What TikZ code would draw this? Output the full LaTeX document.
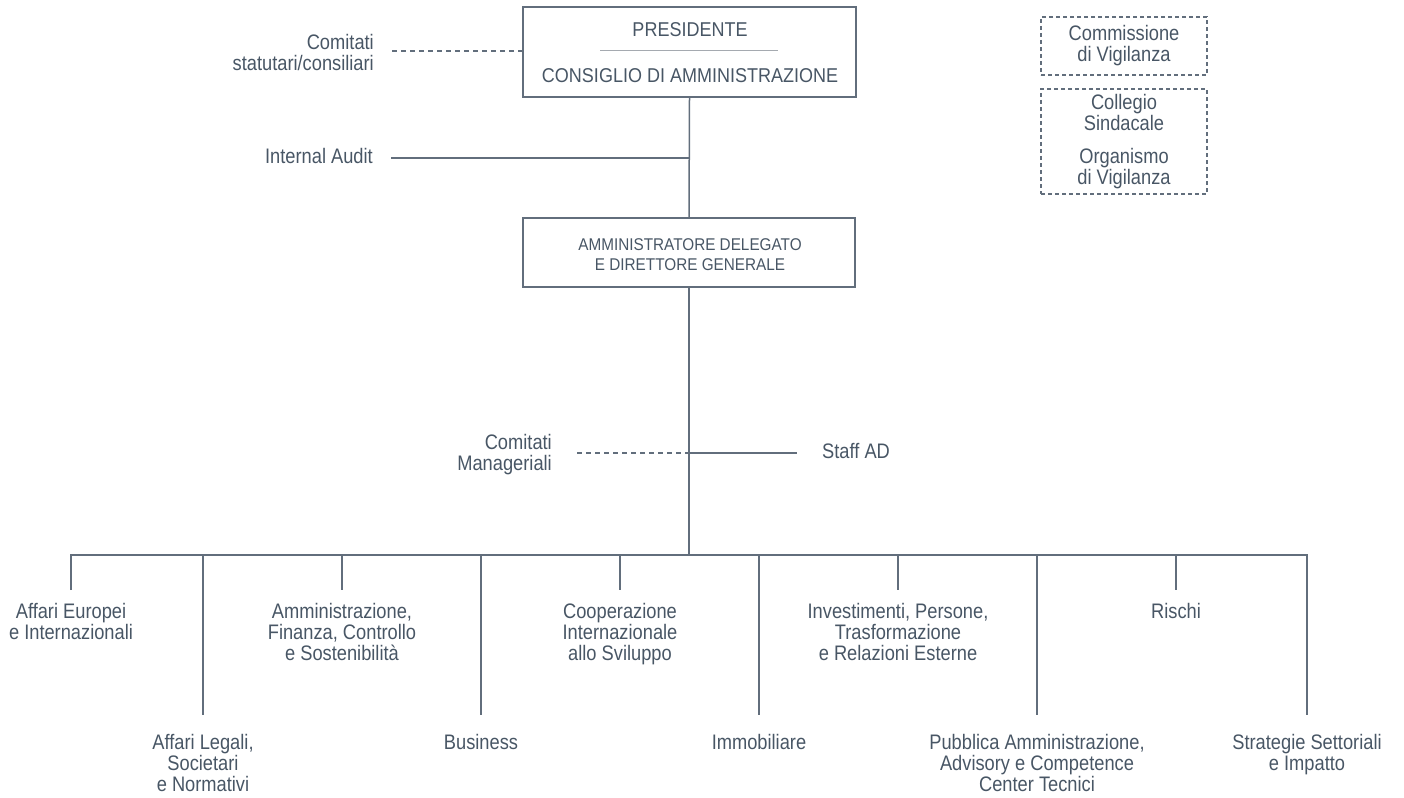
\documentclass[tikz,border=0pt]{standalone}
\usepackage{fontspec}
\setmainfont{Liberation Sans}[FakeStretch=0.9]
\newfontfamily\labfont{Liberation Sans}[FakeStretch=0.87]
\definecolor{txt}{RGB}{72,86,101}
\definecolor{ln}{RGB}{98,110,124}
\definecolor{sepc}{RGB}{165,170,176}
\begin{document}
\begin{tikzpicture}[x=1pt,y=-1pt,
  every node/.style={text=txt,inner sep=0pt},
  captext/.style={font=\fontsize{20}{21}\selectfont,align=center},
  lab/.style={font=\labfont\fontsize{21}{21}\selectfont,align=center},
  labr/.style={font=\labfont\fontsize{21}{21}\selectfont,align=right},
  conn/.style={draw=ln,line width=1.5pt},
  dconn/.style={draw=ln,line width=1.3pt,dash pattern=on 5pt off 4pt},
  mainbox/.style={draw=ln,line width=1.5pt,rectangle},
  dbox/.style={draw=ln,line width=1.3pt,dash pattern=on 4pt off 3pt,rectangle,align=center,font=\labfont\fontsize{21}{21}\selectfont,minimum width=166pt}]
\useasboundingbox (0,0) rectangle (1404,797);
% top box
\node[mainbox,minimum width=333pt,minimum height=90pt] (pres) at (689.5,52) {};
\node[captext] (presT) at (690,30) {PRESIDENTE};
\node[captext] (cdaT) at (690,76) {CONSIGLIO DI AMMINISTRAZIONE};
\coordinate (sepL) at (600,51);
\coordinate (sepR) at (778,51);
\draw[draw=sepc,line width=1pt] (sepL) -- (sepR);
% AD box
\node[mainbox,minimum width=332pt,minimum height=69pt] (ad) at (689,252.5) {};
\node[font=\fontsize{17}{20}\selectfont,align=center] (adT) at (690,255) {AMMINISTRATORE DELEGATO\\E DIRETTORE GENERALE};
% right dashed boxes
\node[dbox,minimum height=58pt] (cv) at (1124,46) {Commissione\\di Vigilanza};
\node[dbox,minimum height=105pt] (cs) at (1124,141.5) {Collegio\\Sindacale\\[12pt]Organismo\\di Vigilanza};
% side labels
\node[labr,anchor=north east] (cst) at (374,34) {Comitati\\statutari/consiliari};
\node[labr,anchor=east] (ia) at (373,156) {Internal Audit};
\node[labr,anchor=north east] (cm) at (552,434) {Comitati\\Manageriali};
\node[lab,anchor=west] (staff) at (822,451) {Staff AD};
% side connectors
\coordinate (cstE) at (392,51);
\draw[dconn] (cstE) -- (cstE -| pres.west);
\coordinate (iaE) at (391,158);
\coordinate (iaJ) at (690,158);
\draw[conn] (iaE) -- (iaJ);
\coordinate (cmE) at (577,453);
\coordinate (mJ) at (690,453);
\coordinate (stE) at (797,453);
\draw[dconn] (cmE) -- (mJ);
\draw[conn] (mJ) -- (stE);
% trunk
\draw[conn] (pres.south) -- (ad.north);
\coordinate (busL) at (71,555);
\coordinate (busR) at (1307,555);
\draw[conn] (ad.south) -- (ad.south |- busL);
% bottom labels, upper row
\node[lab,anchor=north] (u1) at (71,603) {Affari Europei\\e Internazionali};
\node[lab,anchor=north] (u2) at (342,603) {Amministrazione,\\Finanza, Controllo\\e Sostenibilità};
\node[lab,anchor=north] (u3) at (620,603) {Cooperazione\\Internazionale\\allo Sviluppo};
\node[lab,anchor=north] (u4) at (898,603) {Investimenti, Persone,\\Trasformazione\\e Relazioni Esterne};
\node[lab,anchor=north] (u5) at (1176,603) {Rischi};
% lower row
\node[lab,anchor=north] (l1) at (203,734) {Affari Legali,\\Societari\\e Normativi};
\node[lab,anchor=north] (l2) at (481,734) {Business};
\node[lab,anchor=north] (l3) at (759,734) {Immobiliare};
\node[lab,anchor=north] (l4) at (1037,734) {Pubblica Amministrazione,\\Advisory e Competence\\Center Tecnici};
\node[lab,anchor=north] (l5) at (1307,734) {Strategie Settoriali\\e Impatto};
% bus and branches
\draw[conn] ([yshift=13pt]u1.north) -- (busL) -- (busR) -- ([yshift=19pt]l5.north);
\foreach \n in {u2,u3,u4,u5} {
  \draw[conn] (\n.north |- busL) -- ([yshift=13pt]\n.north);
}
\foreach \n in {l1,l2,l3,l4} {
  \draw[conn] (\n.north |- busL) -- ([yshift=19pt]\n.north);
}
\end{tikzpicture}
\end{document}
